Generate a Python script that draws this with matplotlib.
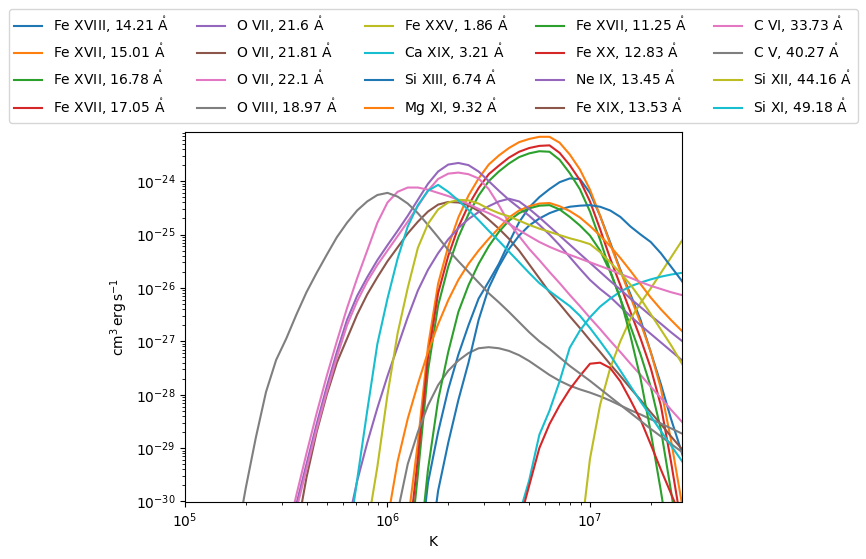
import numpy as np
import matplotlib
matplotlib.use("Agg")
import matplotlib.pyplot as plt

# temperature grid: log10(T / K) from 5.0 to 7.5 in 0.05 steps
logT = np.linspace(5.0, 7.5, 51)

# each series: (first log10 T, log10 G values on the grid from there), G in cm^3 erg s^-1
fe18_1421 = (6.15, [-31.3, -29.65, -28.7, -27.9, -27.25, -26.7, -26.2, -25.88, -25.55, -25.15,
                    -24.77, -24.49, -24.3, -24.15, -24.02, -23.95, -23.96, -24.22, -24.65,
                    -25.15, -25.66, -26.12, -26.6, -27.2, -27.8, -28.45, -29.04, -29.7])
fe17_1501 = (6.10, [-30.4, -28.9, -27.1, -25.92, -25.22, -24.68, -24.27, -23.95, -23.69, -23.52,
                    -23.38, -23.27, -23.21, -23.17, -23.17, -23.28, -23.5, -23.78, -24.16,
                    -24.65, -25.18, -25.68, -26.17, -26.66, -27.2, -27.88, -28.85, -29.95, -31.0])
fe17_1678 = (6.10, [-31.3, -29.5, -27.55, -26.33, -25.6, -25.05, -24.62, -24.27, -24.0, -23.82,
                    -23.67, -23.55, -23.48, -23.44, -23.45, -23.6, -23.85, -24.15, -24.57,
                    -25.1, -25.68, -26.2, -26.72, -27.25, -27.85, -28.65, -29.8, -31.0])
fe17_1705 = (6.10, [-30.9, -29.2, -27.3, -26.1, -25.4, -24.86, -24.45, -24.13, -23.87, -23.71,
                    -23.56, -23.45, -23.38, -23.34, -23.33, -23.47, -23.7, -23.98, -24.38,
                    -24.9, -25.45, -25.95, -26.45, -26.95, -27.5, -28.2, -29.25, -30.4, -31.5])
o7_216 = (5.50, [-30.8, -30.05, -29.3, -28.55, -27.85, -27.2, -26.6, -26.15, -25.8, -25.48,
                 -25.2, -24.93, -24.65, -24.35, -24.05, -23.82, -23.69, -23.66, -23.70, -23.82,
                 -24.0, -24.18, -24.35, -24.5, -24.65, -24.82, -25.0, -25.2, -25.42, -25.64,
                 -25.85, -26.02, -26.17, -26.35, -26.53, -26.7, -26.86, -27.02, -27.18, -27.34,
                 -27.5])
o7_2181 = (5.55, [-30.6, -29.55, -28.7, -28.0, -27.4, -26.95, -26.5, -26.12, -25.8, -25.5,
                  -25.24, -24.98, -24.76, -24.57, -24.44, -24.39, -24.40, -24.45, -24.56, -24.72,
                  -24.89, -25.08, -25.3, -25.56, -25.82, -26.08, -26.3, -26.53, -26.75, -26.98,
                  -27.2, -27.43, -27.65, -27.88, -28.1, -28.33, -28.55, -28.78, -29.0, -29.23])
o7_221 = (5.50, [-30.9, -30.15, -29.4, -28.65, -27.95, -27.3, -26.7, -26.25, -25.88, -25.57,
                 -25.3, -25.03, -24.76, -24.47, -24.18, -23.96, -23.86, -23.84, -23.87, -23.95,
                 -24.15, -24.45, -24.78, -25.03, -25.27, -25.48, -25.70, -25.91, -26.13, -26.34,
                 -26.56, -26.77, -26.99, -27.2, -27.42, -27.63, -27.85, -28.06, -28.28, -28.49,
                 -28.7])
o8_1897 = (6.05, [-30.2, -29.3, -28.7, -28.2, -27.82, -27.55, -27.36, -27.22, -27.13, -27.11,
                  -27.13, -27.18, -27.26, -27.37, -27.5, -27.63, -27.74, -27.83, -27.9, -27.96,
                  -28.03, -28.11, -28.2, -28.29, -28.37, -28.46, -28.54, -28.63, -28.72, -28.81])
fe25_186 = (6.95, [-30.8, -29.2, -28.19, -27.5, -27.0, -26.58, -26.28, -26.01, -25.72, -25.43,
                   -25.14, -24.87])
ca19_321 = (6.65, [-30.25, -29.6, -28.75, -28.3, -27.75, -27.12, -26.8, -26.55, -26.35, -26.2,
                   -26.07, -25.97, -25.9, -25.84, -25.79, -25.75, -25.72, -25.7])
si13_674 = (6.20, [-31.2, -29.8, -28.9, -28.1, -27.4, -26.6, -26.0, -25.6, -25.27, -25.02,
                   -24.83, -24.7, -24.6, -24.53, -24.48, -24.46, -24.45, -24.48, -24.55, -24.67,
                   -24.85, -25.0, -25.14, -25.35, -25.6, -25.85, -26.12])
mg11_932 = (6.00, [-30.35, -29.25, -28.45, -27.8, -27.2, -26.68, -26.23, -25.85, -25.55, -25.3,
                   -25.08, -24.88, -24.68, -24.55, -24.47, -24.42, -24.41, -24.47, -24.56, -24.68,
                   -24.84, -25.02, -25.22, -25.44, -25.68, -25.93, -26.18, -26.4, -26.6, -26.79,
                   -26.98])
fe17_1125 = (6.15, [-31.2, -29.4, -28.1, -27.2, -26.45, -25.95, -25.55, -25.22, -24.95, -24.74,
                    -24.6, -24.51, -24.46, -24.45, -24.53, -24.67, -24.83, -25.02, -25.3, -25.7,
                    -26.2, -26.9, -27.7, -28.7, -29.8, -31.0])
fe20_1283 = (6.65, [-30.4, -29.7, -29.0, -28.55, -28.2, -27.9, -27.65, -27.42, -27.4, -27.5,
                    -27.75, -28.1, -28.47, -28.93, -29.4, -29.85, -30.3, -30.8])
ne9_1345 = (5.80, [-30.5, -29.62, -28.9, -28.25, -27.65, -27.1, -26.55, -26.05, -25.66, -25.35,
                   -25.09, -24.88, -24.71, -24.58, -24.47, -24.38, -24.33, -24.38, -24.52, -24.68,
                   -24.85, -25.02, -25.19, -25.36, -25.53, -25.7, -25.87, -26.03, -26.2, -26.36,
                   -26.52, -26.67, -26.83, -26.98, -27.13])
fe19_1353 = (5.00, [])  # stays under 1e-30 over this range
c6_3373 = (5.50, [-30.7, -29.88, -29.1, -28.35, -27.65, -27.0, -26.38, -25.82, -25.3, -24.78,
                  -24.4, -24.2, -24.12, -24.12, -24.16, -24.22, -24.28, -24.35, -24.43, -24.52,
                  -24.6, -24.69, -24.8, -24.92, -25.03, -25.14, -25.23, -25.31, -25.38, -25.45,
                  -25.52, -25.59, -25.66, -25.74, -25.81, -25.89, -25.96, -26.02, -26.08, -26.13,
                  -26.19])
c5_4027 = (5.25, [-30.8, -29.75, -28.8, -27.95, -27.35, -26.95, -26.5, -26.08, -25.72, -25.38,
                  -25.05, -24.78, -24.55, -24.38, -24.26, -24.22, -24.29, -24.42, -24.60, -24.82,
                  -25.05, -25.29, -25.50, -25.70, -25.90, -26.10, -26.27, -26.45, -26.64, -26.83,
                  -27.0, -27.14, -27.30, -27.46, -27.60, -27.74, -27.89, -28.04, -28.19, -28.34,
                  -28.49, -28.64, -28.78, -28.92, -29.06, -29.20])
si12_4416 = (5.90, [-30.5, -29.35, -28.0, -26.85, -26.0, -25.25, -24.8, -24.53, -24.4, -24.35,
                    -24.36, -24.42, -24.52, -24.6, -24.66, -24.74, -24.82, -24.89, -24.95, -25.01,
                    -25.07, -25.12, -25.18, -25.33, -25.52, -25.72, -25.94, -26.2, -26.49, -26.78,
                    -27.07, -27.39, -27.72])
si11_4918 = (5.80, [-30.9, -29.6, -28.3, -27.05, -26.2, -25.45, -24.85, -24.45, -24.18, -24.07,
                    -24.2, -24.36, -24.54, -24.73, -24.93, -25.12, -25.32, -25.52, -25.72, -25.91,
                    -26.06, -26.2, -26.34, -26.52, -26.75, -27.0, -27.26, -27.55, -27.84, -28.13,
                    -28.4, -28.68, -28.95, -29.22, -29.5])

AA = r"$\mathrm{\mathring{A}}$"
lines = [
    ("Fe XVIII, 14.21 " + AA, fe18_1421),
    ("Fe XVII, 15.01 " + AA, fe17_1501),
    ("Fe XVII, 16.78 " + AA, fe17_1678),
    ("Fe XVII, 17.05 " + AA, fe17_1705),
    ("O VII, 21.6 " + AA, o7_216),
    ("O VII, 21.81 " + AA, o7_2181),
    ("O VII, 22.1 " + AA, o7_221),
    ("O VIII, 18.97 " + AA, o8_1897),
    ("Fe XXV, 1.86 " + AA, fe25_186),
    ("Ca XIX, 3.21 " + AA, ca19_321),
    ("Si XIII, 6.74 " + AA, si13_674),
    ("Mg XI, 9.32 " + AA, mg11_932),
    ("Fe XVII, 11.25 " + AA, fe17_1125),
    ("Fe XX, 12.83 " + AA, fe20_1283),
    ("Ne IX, 13.45 " + AA, ne9_1345),
    ("Fe XIX, 13.53 " + AA, fe19_1353),
    ("C VI, 33.73 " + AA, c6_3373),
    ("C V, 40.27 " + AA, c5_4027),
    ("Si XII, 44.16 " + AA, si12_4416),
    ("Si XI, 49.18 " + AA, si11_4918),
]

T = 10 ** logT

fig = plt.figure(figsize=(8.66, 5.59), dpi=100)
ax = fig.add_axes([185 / 866, 57.5 / 559, 496.7 / 866, 369.5 / 559])

for label, (start, vals) in lines:
    i0 = int(round((start - 5.0) / 0.05))
    ax.plot(T[i0:i0 + len(vals)], 10 ** np.array(vals, dtype=float), label=label)

ax.set_xscale("log")
ax.set_yscale("log")
ax.set_xlim(1e5, 10 ** 7.453)
ax.set_ylim(1e-30, 10 ** -23.08)
ax.set_xlabel("K")
ax.set_ylabel(r"$\mathrm{cm^{3}\,erg\,s^{-1}}$")
ax.legend(loc="lower center", bbox_to_anchor=(0.5, 1.005), ncol=5)

fig.savefig("out.png", dpi=100)
